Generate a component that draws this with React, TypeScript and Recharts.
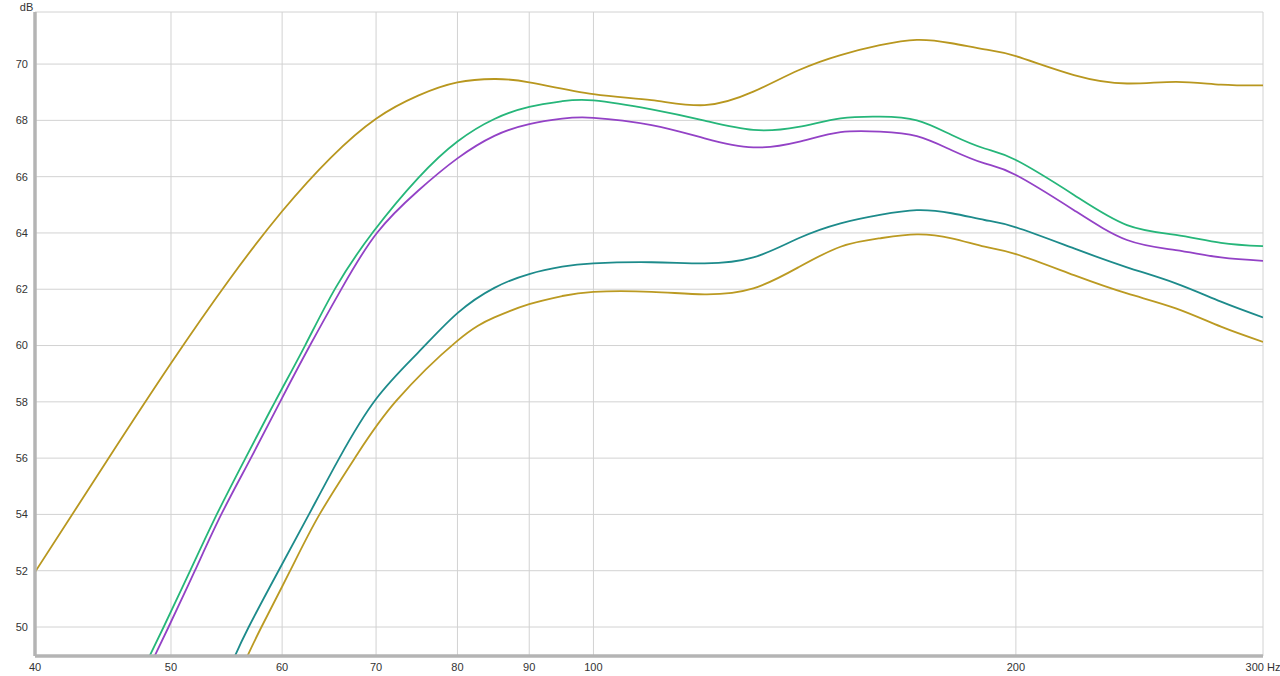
import { LineChart, Line, XAxis, YAxis, CartesianGrid } from 'recharts'

// frequency ticks (Hz) and level ticks (dB)
const HZ_TICKS = [40, 50, 60, 70, 80, 90, 100, 200, 300]
const DB_TICKS = [50, 52, 54, 56, 58, 60, 62, 64, 66, 68, 70]

// upper gold trace
const goldTopHz = [40, 45, 50, 55, 60, 65, 70, 75, 80, 85, 90, 100, 110, 120, 130, 140, 150, 160, 170, 180, 190, 200, 220, 240, 260, 280, 300]
const goldTopDb = [51.95, 55.9, 59.37, 62.33, 64.77, 66.68, 68.06, 68.88, 69.35, 69.47, 69.35, 68.93, 68.72, 68.54, 69.02, 69.78, 70.32, 70.67, 70.86, 70.74, 70.52, 70.28, 69.61, 69.31, 69.37, 69.27, 69.24]

// green trace
const greenHz = [48.2, 49.4, 51.6, 53.9, 56.5, 59.3, 62.3, 65.5, 69.7, 75, 80, 85, 90, 95, 100, 110, 120, 130, 140, 150, 160, 170, 180, 190, 200, 220, 240, 260, 280, 300]
const greenDb = [48.9, 50, 52, 54, 56, 58, 60, 62.05, 64.05, 65.95, 67.25, 68.05, 68.48, 68.68, 68.71, 68.39, 67.99, 67.66, 67.77, 68.07, 68.13, 68.0, 67.48, 67.0, 66.59, 65.35, 64.28, 63.93, 63.65, 63.53]

// purple trace
const purpleHz = [48.6, 49.8, 52.0, 54.3, 57.0, 59.8, 62.8, 66.2, 70.1, 75, 80, 85, 90, 95, 100, 110, 120, 130, 140, 150, 160, 170, 180, 190, 200, 220, 240, 260, 280, 300]
const purpleDb = [48.9, 50, 52, 54, 56, 58, 60, 62.05, 64.0, 65.5, 66.65, 67.45, 67.87, 68.06, 68.09, 67.83, 67.36, 67.04, 67.24, 67.58, 67.6, 67.44, 66.94, 66.47, 66.06, 64.81, 63.75, 63.39, 63.13, 63.01]

// teal trace
const tealHz = [55.45, 56.8, 59.65, 62.7, 65.9, 70, 75, 80, 85, 90, 95, 100, 110, 120, 130, 140, 150, 160, 170, 180, 190, 200, 220, 240, 260, 280, 300]
const tealDb = [48.9, 50, 52, 54, 56, 58.1, 59.75, 61.15, 62.05, 62.54, 62.8, 62.92, 62.96, 62.92, 63.13, 63.81, 64.34, 64.64, 64.81, 64.7, 64.46, 64.2, 63.45, 62.78, 62.21, 61.56, 61.0]

// lower gold trace
const goldLowHz = [56.6, 58.0, 60.8, 63.8, 67.8, 72.4, 79.9, 85, 90, 95, 100, 110, 120, 130, 140, 150, 160, 170, 180, 190, 200, 220, 240, 260, 280, 300]
const goldLowDb = [48.9, 50, 52, 54, 56.1, 58.05, 60.15, 61.0, 61.47, 61.76, 61.91, 61.91, 61.82, 62.03, 62.78, 63.51, 63.81, 63.95, 63.81, 63.51, 63.25, 62.5, 61.85, 61.32, 60.67, 60.13]

const toPoints = (hz: number[], db: number[]) => hz.map((f, i) => ({ f, db: db[i] }))

const series = [
    { name: 'gold-top', data: toPoints(goldTopHz, goldTopDb), color: '#b8971f' },
    { name: 'green', data: toPoints(greenHz, greenDb), color: '#26b67a' },
    { name: 'purple', data: toPoints(purpleHz, purpleDb), color: '#9342c6' },
    { name: 'teal', data: toPoints(tealHz, tealDb), color: '#1d8b8b' },
    { name: 'gold-low', data: toPoints(goldLowHz, goldLowDb), color: '#bb9a22' },
]

const FRAME = '#b4b4b4'
const tickStyle = { fontFamily: '"Liberation Sans", Arial, sans-serif', fontSize: 11, fill: '#333' }

export default function App() {
    return (
        <div style={{ position: 'absolute', left: 0, top: 0, width: 1280, height: 676, background: '#fff' }}>
            <LineChart width={1280} height={676} margin={{ top: 12, right: 17, bottom: 0, left: 0 }}>
                <CartesianGrid stroke="#d2d2d2" strokeWidth={1} />
                <XAxis
                    xAxisId={0}
                    dataKey="f"
                    type="number"
                    scale="log"
                    domain={[40, 300]}
                    ticks={HZ_TICKS}
                    interval={0}
                    allowDataOverflow
                    height={20}
                    tickSize={0}
                    tickMargin={7}
                    tick={tickStyle}
                    tickFormatter={(v: number) => (v === 300 ? '300 Hz' : String(v))}
                    axisLine={{ stroke: FRAME, strokeWidth: 3.5 }}
                />
                <XAxis
                    xAxisId="top"
                    orientation="top"
                    type="number"
                    scale="log"
                    domain={[40, 300]}
                    allowDataOverflow
                    height={0}
                    tick={false}
                    tickLine={false}
                    axisLine={{ stroke: FRAME, strokeWidth: 3.5 }}
                />
                <YAxis
                    yAxisId={0}
                    type="number"
                    domain={[48.97, 71.85]}
                    ticks={DB_TICKS}
                    interval={0}
                    allowDataOverflow
                    width={35}
                    tickSize={0}
                    tickMargin={7}
                    tick={tickStyle}
                    axisLine={{ stroke: FRAME, strokeWidth: 3.5 }}
                    label={{ value: 'dB', position: 'top', offset: 1, dx: 9, style: tickStyle }}
                />
                <YAxis
                    yAxisId="right"
                    orientation="right"
                    type="number"
                    domain={[48.97, 71.85]}
                    width={0}
                    tick={false}
                    tickLine={false}
                    axisLine={{ stroke: FRAME, strokeWidth: 3.5 }}
                />
                {series.map((s) => (
                    <Line
                        key={s.name}
                        data={s.data}
                        dataKey="db"
                        type="natural"
                        stroke={s.color}
                        strokeWidth={1.8}
                        dot={false}
                        activeDot={false}
                        isAnimationActive={false}
                    />
                ))}
            </LineChart>
        </div>
    )
}
